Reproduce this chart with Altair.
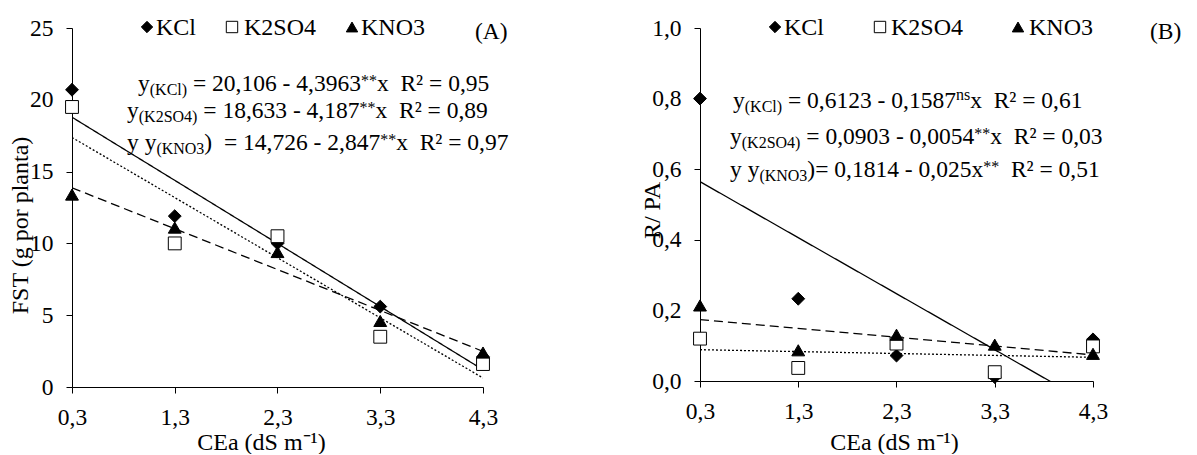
import altair as alt
import pandas as pd

# ---------------- data ----------------
x_levels = [0.3, 1.3, 2.3, 3.3, 4.3]
series = ["KCl", "K2SO4", "KNO3"]

fst_kcl = [20.7, 11.9, 10.0, 5.6, 2.1]
fst_k2so4 = [19.5, 10.0, 10.5, 3.5, 1.6]
fst_kno3 = [13.4, 11.1, 9.4, 4.6, 2.4]

rpa_kcl = [0.80, 0.233, 0.072, 0.011, 0.118]
rpa_k2so4 = [0.12, 0.037, 0.106, 0.025, 0.098]
rpa_kno3 = [0.214, 0.087, 0.131, 0.103, 0.077]

fst_intercept = [20.106, 18.633, 14.726]
fst_slope = [-4.3963, -4.187, -2.847]
rpa_intercept = [0.6123, 0.0903, 0.1814]
rpa_slope = [-0.1587, -0.0054, -0.025]

NB = "\u00a0"
eq_fst = [
    [("y", "n"), ("(KCl)", "sub"), (NB + "= 20,106 - 4,3963", "n"), ("**", "sup"), ("x" + NB + NB + "R² = 0,95", "n")],
    [("y", "n"), ("(K2SO4)", "sub"), (NB + "= 18,633 - 4,187", "n"), ("**", "sup"), ("x" + NB + NB + "R² = 0,89", "n")],
    [("y y", "n"), ("(KNO3", "sub"), (")" + NB + NB + "= 14,726 - 2,847", "n"), ("**", "sup"), ("x" + NB + NB + "R² = 0,97", "n")],
]
eq_rpa = [
    [("y", "n"), ("(KCl)", "sub"), (NB + "= 0,6123 - 0,1587", "n"), ("ns", "supns"), ("x" + NB + NB + "R² = 0,61", "n")],
    [("y", "n"), ("(K2SO4)", "sub"), (NB + "= 0,0903 - 0,0054", "n"), ("**", "sup"), ("x" + NB + NB + "R² = 0,03", "n")],
    [("y y", "n"), ("(KNO3", "sub"), (")= 0,1814 - 0,025x", "n"), ("**", "sup"), (NB + NB + "R² = 0,51", "n")],
]

FONT = "Liberation Serif"
MAIN_FS = 23.5
SMALL_FS = 16
LEG_FS = 24

# approximate Times/Liberation Serif advance widths (per 1000 em)
WID = {" ": 250, NB: 250, "(": 333, ")": 333, "=": 564, ",": 250, "-": 333, "y": 500, "x": 500,
       "K": 722, "C": 667, "l": 278, "S": 556, "O": 722, "N": 722, "R": 667, "²": 300,
       "*": 500, "n": 500, "s": 389}


def text_width(s, fs):
    return sum(WID.get(c, 500) for c in s) * fs / 1000.0


def points_df(vals):
    rows = []
    for s, v in zip(series, vals):
        for x, y in zip(x_levels, v):
            rows.append({"CEa": x, "value": y, "series": s})
    return pd.DataFrame(rows)


def lines_df(intercepts, slopes):
    rows = []
    for s, a, b in zip(series, intercepts, slopes):
        for x in (x_levels[0], x_levels[-1]):
            rows.append({"CEa": x, "value": a + b * x, "series": s})
    return pd.DataFrame(rows)


def text_layer(txt, px, py, fs, baseline="alphabetic"):
    return (
        alt.Chart(alt.Data(values=[{"t": txt}]))
        .mark_text(align="left", baseline=baseline, font=FONT, fontSize=fs, color="black")
        .encode(x=alt.value(px), y=alt.value(py), text="t:N")
    )


def equation_layers(eqs, starts, baselines):
    layers = []
    for eq, x0, yb in zip(eqs, starts, baselines):
        x = x0
        for txt, kind in eq:
            if kind == "n":
                fs, dy = MAIN_FS, 0
            elif kind == "sub":
                fs, dy = SMALL_FS, 4
            elif kind == "supns":
                fs, dy = SMALL_FS, -8
            else:
                fs, dy = SMALL_FS, -5
            lead = len(txt) - len(txt.lstrip(NB))
            x += lead * WID[NB] * fs / 1000.0
            body = txt.lstrip(NB)
            layers.append(text_layer(body, x, yb + dy, fs))
            x += text_width(body, fs)
    return layers


SHAPES = ["diamond", "square", "triangle-up"]
FILLS = ["black", "white", "black"]


def legend_layers(sym_x, lab_x, y):
    layers = []
    for name, shp, fil, sx, lx in zip(series, SHAPES, FILLS, sym_x, lab_x):
        layers.append(
            alt.Chart(alt.Data(values=[{"s": name}]))
            .mark_point(shape=shp, filled=True, fill=fil, stroke="black", strokeWidth=1, opacity=1, size=130)
            .encode(x=alt.value(sx), y=alt.value(y))
        )
        layers.append(text_layer(name, lx, y + 1, LEG_FS, baseline="middle"))
    return layers


def panel(pts, lns, width, height, ydomain, yvalues, yfmt, ytitle, ytx, yty, xtx, xty,
          eqs, eq_starts, eq_base, tag, tag_x, leg_sym, leg_lab):
    xscale = alt.Scale(domain=[0.3, 4.3], nice=False, zero=False)
    yscale = alt.Scale(domain=ydomain, nice=False, zero=False)
    xaxis = alt.Axis(values=x_levels, labelExpr="replace(format(datum.value,'.1f'),'.',',')",
                     title="CEa (dS m\u207b\u00b9)", titleX=xtx, titleY=xty, titleBaseline="alphabetic",
                     titleAlign="center", labelFlush=False, grid=False, tickSize=6, labelPadding=12)
    yaxis = alt.Axis(values=yvalues, labelExpr=yfmt, title=ytitle, titleX=ytx, titleY=yty,
                     titleAngle=270, titleBaseline="middle", titleAlign="center", grid=False,
                     tickSize=6, labelPadding=13)
    line = alt.Chart(lns).mark_line(color="black", strokeWidth=1.3, clip=True).encode(
        x=alt.X("CEa:Q", scale=xscale, axis=xaxis),
        y=alt.Y("value:Q", scale=yscale, axis=yaxis),
        strokeDash=alt.StrokeDash("series:N", scale=alt.Scale(domain=series, range=[[1, 0], [2, 2], [9, 5]]),
                                  legend=None),
        detail="series:N",
    )
    point = alt.Chart(pts).mark_point(filled=True, stroke="black", strokeWidth=1, opacity=1, size=165).encode(
        x=alt.X("CEa:Q", scale=xscale, axis=xaxis),
        y=alt.Y("value:Q", scale=yscale, axis=yaxis),
        shape=alt.Shape("series:N", scale=alt.Scale(domain=series, range=SHAPES), legend=None),
        fill=alt.Fill("series:N", scale=alt.Scale(domain=series, range=FILLS), legend=None),
    )
    layers = ([line, point] + equation_layers(eqs, eq_starts, eq_base)
              + legend_layers(leg_sym, leg_lab, -1)
              + [text_layer(tag, tag_x, 11, MAIN_FS)])
    return alt.layer(*layers).properties(width=width, height=height)


pts_a = points_df([fst_kcl, fst_k2so4, fst_kno3])
lns_a = lines_df(fst_intercept, fst_slope)
pts_b = points_df([rpa_kcl, rpa_k2so4, rpa_kno3])
lns_b = lines_df(rpa_intercept, rpa_slope)

panel_a = panel(pts_a, lns_a, 411, 359, [0, 25], [0, 5, 10, 15, 20, 25], "datum.value + ''",
                "FST (g por planta)", -52, 197, 189, 62,
                eq_fst, [66, 55, 55], [63, 90, 122], "(A)", 403,
                [75, 160, 280], [84, 172, 289])
panel_b = panel(pts_b, lns_b, 393, 353, [0, 1], [0, 0.2, 0.4, 0.6, 0.8, 1.0],
                "replace(format(datum.value,'.1f'),'.',',')",
                "R/ PA", -48, 182, 194, 68,
                eq_rpa, [33, 30, 30], [80, 116, 149], "(B)", 450,
                [75, 180, 318], [84, 191, 329])

chart = (
    alt.HConcatChart(hconcat=[panel_a, panel_b], spacing=217, bounds="flush")
    .resolve_scale(shape="independent", fill="independent", strokeDash="independent")
    .properties(padding={"left": 0, "top": 8, "right": 0, "bottom": 0}, background="white")
    .configure_view(stroke=None)
    .configure_axis(labelFont=FONT, labelFontSize=23.5, labelColor="black", titleFont=FONT,
                    titleFontSize=24, titleFontWeight="normal", titleColor="black",
                    domainColor="black", tickColor="black", domainWidth=1, tickWidth=1)
)

chart.save("out.html", embed_options={"renderer": "svg", "actions": False})
